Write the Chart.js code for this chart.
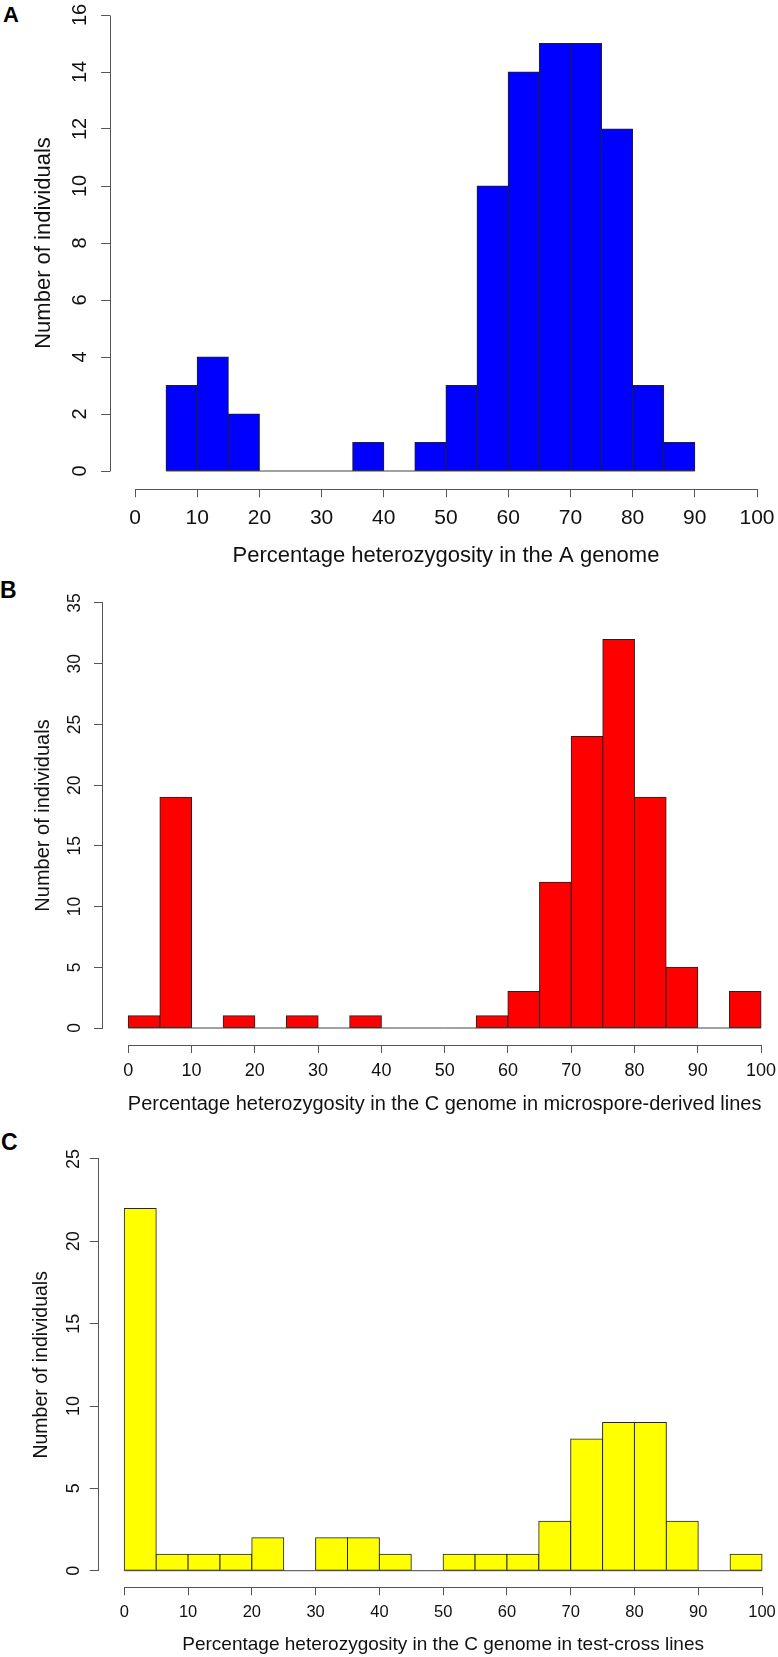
<!DOCTYPE html>
<html>
<head>
<meta charset="utf-8">
<title>Percentage heterozygosity histograms</title>
<script src="https://cdn.jsdelivr.net/npm/chart.js@4.4.1/dist/chart.umd.min.js"></script>
<style>
  html, body { margin: 0; padding: 0; background: #fff; overflow: hidden; }
  #page { position: relative; width: 778px; height: 1657px; overflow: hidden; background: #fff; }
  #page canvas { position: absolute; left: 0; }
  .tag { position: absolute; font-family: 'Liberation Sans', Arial, sans-serif; font-weight: bold; line-height: 1; color: #000; }
</style>
</head>
<body>
<div id="page">
  <div class="tag" style="left:3px;top:4px;font-size:22px;">A</div>
  <div class="tag" style="left:0px;top:578.7px;font-size:23px;">B</div>
  <div class="tag" style="left:1px;top:1131px;font-size:23px;">C</div>
</div>
<script>
/* ---- 資料：每格 5% 的直方圖（格子起點 + 個數） ---- */
var BIN_WIDTH = 5;
var BINS_A = [5, 10, 15, 20, 25, 30, 35, 40, 45, 50, 55, 60, 65, 70, 75, 80, 85];
var COUNTS_A = [3, 4, 2, 0, 0, 0, 1, 0, 1, 3, 10, 14, 15, 15, 12, 3, 1];
var BINS_BC = [0, 5, 10, 15, 20, 25, 30, 35, 40, 45, 50, 55, 60, 65, 70, 75, 80, 85, 90, 95];
var COUNTS_B = [1, 19, 0, 1, 0, 1, 0, 1, 0, 0, 0, 1, 3, 12, 24, 32, 19, 5, 0, 3];
var COUNTS_C = [22, 1, 1, 1, 2, 0, 2, 2, 1, 0, 1, 1, 1, 3, 8, 9, 9, 3, 0, 1];

var X_TICKS = [0, 10, 20, 30, 40, 50, 60, 70, 80, 90, 100];
var Y_TICKS_A = [0, 2, 4, 6, 8, 10, 12, 14, 16];
var Y_TICKS_B = [0, 5, 10, 15, 20, 25, 30, 35];
var Y_TICKS_C = [0, 5, 10, 15, 20, 25];

var X_TITLE_A = 'Percentage heterozygosity in the A genome';
var X_TITLE_B = 'Percentage heterozygosity in the C genome in microspore-derived lines';
var X_TITLE_C = 'Percentage heterozygosity in the C genome in test-cross lines';
var Y_TITLE = 'Number of individuals';

var FONT = "'Liberation Sans', Arial, Helvetica, sans-serif";
var AXIS_GREY = '#555';
var INK = '#111';
var CANVAS_W = 800;

Chart.defaults.font.family = FONT;

function alignPx(v) { return Math.round(v - 0.5) + 0.5; }

function widestLabel(values, size) {
  var c = document.createElement('canvas').getContext('2d');
  c.font = size + 'px ' + FONT;
  var w = 0;
  values.forEach(function (v) { w = Math.max(w, c.measureText(String(v)).width); });
  return w;
}

/* R 式的軸線：只畫第一個到最後一個刻度之間 */
var rAxes = {
  id: 'rAxes',
  afterDatasetsDraw: function (chart) {
    var xs = chart.scales.x, ys = chart.scales.y, ctx = chart.ctx;
    var xt = xs.ticks, yt = ys.ticks;
    ctx.save();
    ctx.strokeStyle = AXIS_GREY;
    ctx.lineWidth = 1;
    ctx.beginPath();
    var ax = alignPx(ys.right);
    ctx.moveTo(ax, alignPx(ys.getPixelForValue(yt[0].value)));
    ctx.lineTo(ax, alignPx(ys.getPixelForValue(yt[yt.length - 1].value)));
    var ay = alignPx(xs.top);
    ctx.moveTo(alignPx(xs.getPixelForValue(xt[0].value)), ay);
    ctx.lineTo(alignPx(xs.getPixelForValue(xt[xt.length - 1].value)), ay);
    ctx.stroke();
    ctx.restore();
  }
};

/* p: 目標像素位置（刻度 0/100、y=0 基線、最高刻度）與字級 */
function buildPanel(p) {
  var yMax = p.yTicks[p.yTicks.length - 1];
  var ux = (p.x100 - p.x0) / 100;
  var uy = (p.base - p.yTopPx) / yMax;
  var area = {
    left: p.x0 - 4 * ux,
    right: p.x100 + 4 * ux,
    top: p.base - 1.04 * yMax * uy,
    bottom: p.base + 0.04 * yMax * uy
  };
  var canvasTop = Math.floor(area.top - 40);
  var padTop = area.top - canvasTop;
  var H = Math.ceil(area.bottom - canvasTop + 110);
  var xBoxH = H - (area.bottom - canvasTop);

  var xTickPad = p.xLabelY - area.bottom - p.xTickLen - 0.6 * p.xTickSize;
  var xTitlePad = area.bottom + xBoxH - 0.6 * p.xTitleSize - p.xTitleY;
  var yTickPad = area.left - p.yTickLen - p.yLabelX - widestLabel(p.yTicks, p.yTickSize) / 2;
  var yTitlePad = p.yTitleX - 0.6 * p.yTitleSize;

  var canvas = document.createElement('canvas');
  canvas.width = CANVAS_W;
  canvas.height = H;
  canvas.style.top = canvasTop + 'px';
  document.getElementById('page').appendChild(canvas);

  var bars = p.bins.map(function (b, i) { return { x: b + BIN_WIDTH / 2, y: p.counts[i] }; });
  var first = p.bins[0], last = p.bins[p.bins.length - 1] + BIN_WIDTH;

  return new Chart(canvas, {
    type: 'bar',
    data: {
      datasets: [
        { type: 'bar', data: bars, backgroundColor: p.color, borderColor: '#222', borderWidth: 1,
          borderSkipped: false, inflateAmount: 0.5, barPercentage: 1, categoryPercentage: 1, order: 2 },
        { type: 'line', data: [{ x: first, y: 0 }, { x: last, y: 0 }], borderColor: '#444', borderWidth: 1,
          pointRadius: 0, fill: false, order: 1 }
      ]
    },
    options: {
      responsive: false, animation: false, devicePixelRatio: 1, events: [],
      layout: { padding: { top: padTop, right: CANVAS_W - area.right, bottom: 0, left: 0 } },
      plugins: { legend: { display: false }, tooltip: { enabled: false } },
      scales: {
        x: {
          type: 'linear', min: -4, max: 104, offset: false,
          afterBuildTicks: function (s) { s.ticks = X_TICKS.map(function (v) { return { value: v }; }); },
          afterFit: function (s) { s.height = xBoxH; },
          grid: { drawOnChartArea: false, drawTicks: true, tickLength: p.xTickLen, color: AXIS_GREY, offset: false },
          border: { display: false },
          ticks: { autoSkip: false, minRotation: 0, maxRotation: 0, padding: xTickPad, color: INK,
                   font: { size: p.xTickSize } },
          title: { display: true, text: p.xTitle, color: INK, font: { size: p.xTitleSize },
                   padding: { top: 0, bottom: xTitlePad } }
        },
        y: {
          type: 'linear', min: -0.04 * yMax, max: 1.04 * yMax,
          afterBuildTicks: function (s) { s.ticks = p.yTicks.map(function (v) { return { value: v }; }); },
          afterFit: function (s) { s.width = area.left; },
          grid: { drawOnChartArea: false, drawTicks: true, tickLength: p.yTickLen, color: AXIS_GREY },
          border: { display: false },
          ticks: { autoSkip: false, minRotation: 90, maxRotation: 90, crossAlign: 'center', padding: yTickPad,
                   color: INK, font: { size: p.yTickSize } },
          title: { display: true, text: Y_TITLE, color: INK, font: { size: p.yTitleSize },
                   padding: { top: yTitlePad, bottom: 0 } }
        }
      }
    },
    plugins: [rAxes]
  });
}

buildPanel({
  bins: BINS_A, counts: COUNTS_A, color: '#0000ff', yTicks: Y_TICKS_A, xTitle: X_TITLE_A,
  x0: 135, x100: 757, base: 471, yTopPx: 15,
  xTickLen: 8, yTickLen: 9, xTickSize: 21, xTitleSize: 22, yTickSize: 20, yTitleSize: 22,
  xLabelY: 518.3, xTitleY: 555.7, yLabelX: 80.1, yTitleX: 44.4
});
buildPanel({
  bins: BINS_BC, counts: COUNTS_B, color: '#ff0000', yTicks: Y_TICKS_B, xTitle: X_TITLE_B,
  x0: 128.3, x100: 761, base: 1028, yTopPx: 603,
  xTickLen: 8, yTickLen: 9, xTickSize: 18, xTitleSize: 20, yTickSize: 17.5, yTitleSize: 20,
  xLabelY: 1070.8, xTitleY: 1104.8, yLabelX: 75.6, yTitleX: 43
});
buildPanel({
  bins: BINS_BC, counts: COUNTS_C, color: '#ffff00', yTicks: Y_TICKS_C, xTitle: X_TITLE_C,
  x0: 124.3, x100: 762, base: 1570.7, yTopPx: 1159,
  xTickLen: 8, yTickLen: 9, xTickSize: 16.5, xTitleSize: 19, yTickSize: 18, yTitleSize: 19.5,
  xLabelY: 1612.5, xTitleY: 1644.4, yLabelX: 73.8, yTitleX: 41.7
});
</script>
</body>
</html>
